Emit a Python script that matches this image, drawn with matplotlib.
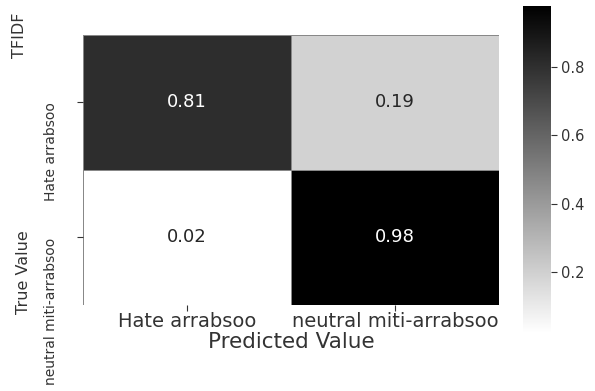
import matplotlib
matplotlib.use("Agg")
import matplotlib.pyplot as plt
import numpy as np
import seaborn as sns

# confusion matrix values (normalised)
class_labels = ["Hate arrabsoo", "neutral miti-arrabsoo"]
row_hate = [0.81, 0.19]
row_neutral = [0.02, 0.98]
cbar_ticks = [0.2, 0.4, 0.6, 0.8]

cm = np.array([row_hate, row_neutral])

fig = plt.figure(figsize=(5.95, 3.91), dpi=100)
ax = fig.add_axes([0.1395, 0.22, 0.699, 0.6905])
cax = fig.add_axes([0.879, 0.148, 0.047, 0.837])

sns.heatmap(cm, annot=True, fmt=".2f", cmap="gray_r", ax=ax, cbar_ax=cax,
            linewidths=0.6, linecolor="#888888",
            xticklabels=class_labels, yticklabels=class_labels,
            annot_kws={"size": 13})

text_col = "#333333"

# x axis
ax.tick_params(axis="x", labelsize=14, pad=1, length=4, colors=text_col)
ax.set_xlabel("Predicted Value", fontsize=15.5, color=text_col)
ax.xaxis.set_label_coords(0.5, -0.1)

# y axis: labels rotated, hanging down from the tick
ax.tick_params(axis="y", labelsize=10, pad=14, length=4, colors=text_col)
for lab in ax.get_yticklabels():
    lab.set_rotation(90)
    lab.set_va("top")
ax.set_ylabel("True Value", fontsize=11.5, color=text_col)
ax.yaxis.set_label_coords(-0.125, 0.12)

fig.text(19 / 595, 1 - 35 / 391, "TFIDF", rotation=90, ha="center", va="center",
         fontsize=11.5, color=text_col)

# colorbar
cax.set_yticks(cbar_ticks)
cax.tick_params(labelsize=10.5, colors=text_col, length=4)

plt.savefig("out.png", dpi=100)
plt.close()
